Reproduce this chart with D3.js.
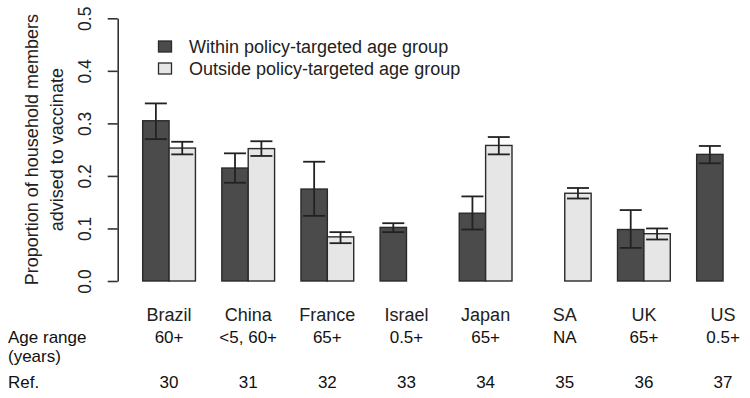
<!DOCTYPE html>
<html>
<head>
<meta charset="utf-8">
<script src="https://cdn.jsdelivr.net/npm/d3@7"></script>
<style>
  body { margin: 0; background: #fff; }
  svg { display: block; font-family: "Liberation Sans", Arial, sans-serif; }
</style>
</head>
<body>
<svg id="chart"></svg>
<script>
const W = 750, H = 398;

const countries = ["Brazil", "China", "France", "Israel", "Japan", "SA", "UK", "US"];
const ageRanges = ["60+", "<5, 60+", "65+", "0.5+", "65+", "NA", "65+", "0.5+"];
const refs = ["30", "31", "32", "33", "34", "35", "36", "37"];
const seriesNames = ["Within policy-targeted age group", "Outside policy-targeted age group"];

// null = no bar
const withinVal = [0.305, 0.215, 0.175, 0.102, 0.129, null, 0.098, 0.241];
const withinLo  = [0.270, 0.187, 0.124, 0.093, 0.098, null, 0.063, 0.224];
const withinHi  = [0.338, 0.243, 0.227, 0.110, 0.161, null, 0.135, 0.257];
const outsideVal = [0.253, 0.252, 0.084, null, 0.258, 0.167, 0.090, null];
const outsideLo  = [0.241, 0.238, 0.072, null, 0.241, 0.157, 0.079, null];
const outsideHi  = [0.265, 0.266, 0.093, null, 0.274, 0.177, 0.100, null];

const yTicks = [0, 0.1, 0.2, 0.3, 0.4, 0.5];

const COLORS = ["#4b4b4b", "#e6e6e6"];

const svg = d3.select("#chart")
    .attr("width", W)
    .attr("height", H);

const unit = 26.38;
const x0 = 116.3;

const xGroup = d3.scaleBand()
    .domain(countries)
    .range([x0, x0 + 25 * unit])
    .paddingInner(1 / 3)
    .paddingOuter(1 / 3)
    .align(0.5);

const xSeries = d3.scaleBand()
    .domain([0, 1])
    .range([0, xGroup.bandwidth()])
    .padding(0);

const yScale = d3.scaleLinear()
    .domain([0, 0.5])
    .range([281, 18.3]);

// Axis Y
const yAxis = svg.append("g")
    .attr("transform", "translate(117.7,0)")
    .call(d3.axisLeft(yScale)
        .tickValues(yTicks)
        .tickFormat(d3.format(".1f"))
        .tickSizeInner(10)
        .tickSizeOuter(0));

yAxis.select(".domain").attr("stroke", "#333").attr("stroke-width", 1.6);
yAxis.selectAll(".tick line").attr("stroke", "#333").attr("stroke-width", 1.6);
yAxis.selectAll(".tick text")
    .attr("x", null)
    .attr("dy", null)
    .attr("transform", "translate(-27,0) rotate(-90)")
    .attr("text-anchor", "middle")
    .attr("fill", "#222")
    .style("font-size", "17.5px")
    .style("font-family", "'Liberation Sans', Arial, sans-serif");

// Label Y
const ylab = svg.append("g")
    .attr("transform", `translate(0,${(yScale(0) + yScale(0.5)) / 2})`);
ylab.append("text")
    .attr("transform", "translate(38,0) rotate(-90)")
    .attr("text-anchor", "middle")
    .attr("fill", "#222")
    .style("font-size", "18px")
    .text("Proportion of household members");
ylab.append("text")
    .attr("transform", "translate(62.5,0) rotate(-90)")
    .attr("text-anchor", "middle")
    .attr("fill", "#222")
    .style("font-size", "18px")
    .text("advised to vaccinate");

// Bars
const series = [
    { val: withinVal, lo: withinLo, hi: withinHi },
    { val: outsideVal, lo: outsideLo, hi: outsideHi }
];

const rows = [];
series.forEach((s, si) => {
    countries.forEach((c, i) => {
        if (s.val[i] !== null) {
            rows.push({ c, si, v: s.val[i], lo: s.lo[i], hi: s.hi[i] });
        }
    });
});

svg.append("g")
    .selectAll("rect")
    .data(rows)
    .enter()
    .append("rect")
    .attr("x", d => xGroup(d.c) + xSeries(d.si))
    .attr("y", d => yScale(d.v))
    .attr("width", xSeries.bandwidth())
    .attr("height", d => yScale(0) - yScale(d.v))
    .attr("fill", d => COLORS[d.si])
    .attr("stroke", "#2a2a2a")
    .attr("stroke-width", 1.4);

// Error bars
const capW = 22;
const err = svg.append("g")
    .selectAll("g")
    .data(rows)
    .enter()
    .append("g")
    .attr("transform", d => `translate(${xGroup(d.c) + xSeries(d.si) + xSeries.bandwidth() / 2},0)`)
    .attr("stroke", "#222")
    .attr("stroke-width", 1.8);

err.append("line")
    .attr("y1", d => yScale(d.lo))
    .attr("y2", d => yScale(d.hi));
err.append("line")
    .attr("x1", -capW / 2).attr("x2", capW / 2)
    .attr("y1", d => yScale(d.hi)).attr("y2", d => yScale(d.hi));
err.append("line")
    .attr("x1", -capW / 2).attr("x2", capW / 2)
    .attr("y1", d => yScale(d.lo)).attr("y2", d => yScale(d.lo));

// Legend
const legend = svg.append("g").attr("transform", "translate(158,0)");
seriesNames.forEach((name, i) => {
    const yy = 53 + i * 22;
    legend.append("rect")
        .attr("x", 0.5)
        .attr("y", yy - 12)
        .attr("width", 13)
        .attr("height", 11)
        .attr("fill", COLORS[i])
        .attr("stroke", "#2a2a2a")
        .attr("stroke-width", 1.3);
    legend.append("text")
        .attr("x", 31)
        .attr("y", yy)
        .attr("fill", "#222")
        .style("font-size", "18px")
        .text(name);
});

// Bottom table
const center = c => xGroup(c) + xGroup.bandwidth() / 2;
const table = svg.append("g").attr("fill", "#111");

table.selectAll(".country")
    .data(countries)
    .enter()
    .append("text")
    .attr("x", center)
    .attr("y", 321)
    .attr("text-anchor", "middle")
    .style("font-size", "18px")
    .attr("fill", "#222")
    .text(d => d);

table.selectAll(".age")
    .data(ageRanges)
    .enter()
    .append("text")
    .attr("x", (d, i) => center(countries[i]))
    .attr("y", 343)
    .attr("text-anchor", "middle")
    .style("font-size", "17px")
    .text(d => d);

table.selectAll(".ref")
    .data(refs)
    .enter()
    .append("text")
    .attr("x", (d, i) => center(countries[i]))
    .attr("y", 388)
    .attr("text-anchor", "middle")
    .style("font-size", "17px")
    .text(d => d);

table.append("text").attr("x", 8).attr("y", 343).style("font-size", "17px").text("Age range");
table.append("text").attr("x", 8).attr("y", 362).style("font-size", "17px").text("(years)");
table.append("text").attr("x", 8).attr("y", 388).style("font-size", "17px").text("Ref.");
</script>
</body>
</html>
